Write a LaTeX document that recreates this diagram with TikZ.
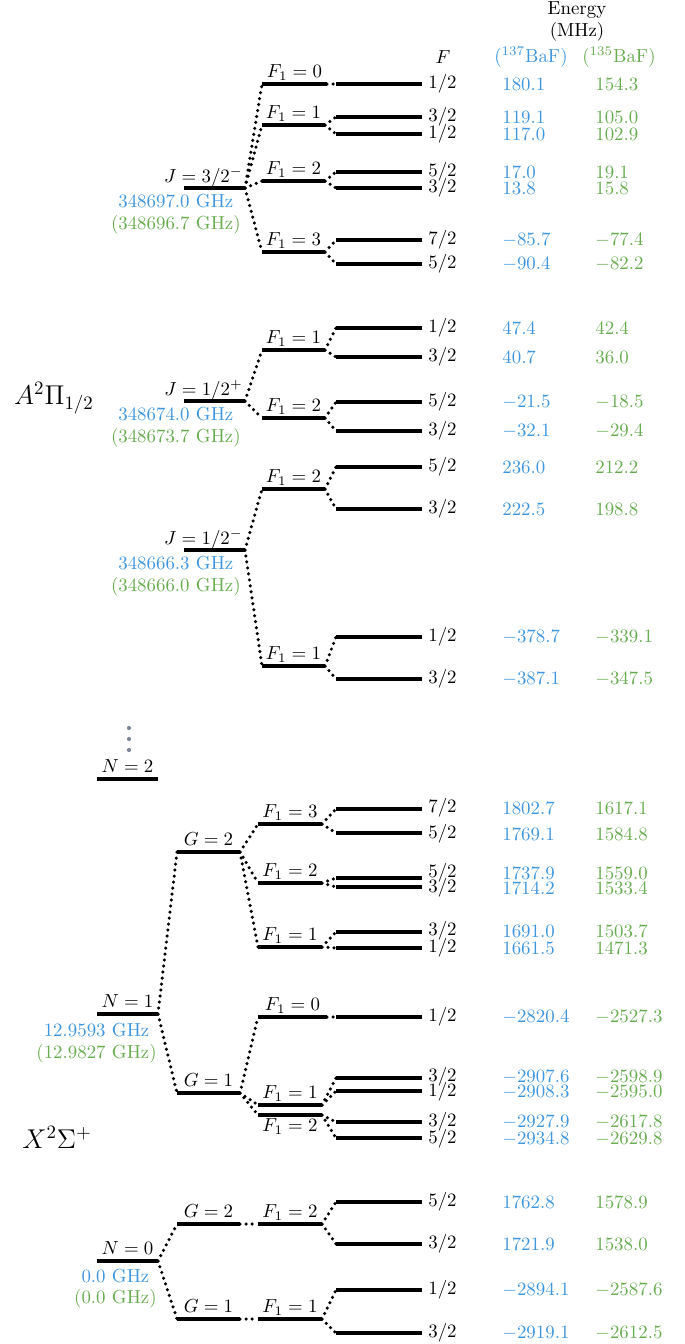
\documentclass[tikz,border=0pt]{standalone}
\usepackage{amsmath}
\definecolor{eblue}{RGB}{62,150,222}
\definecolor{egreen}{RGB}{104,172,80}
\definecolor{dotgray}{RGB}{125,135,155}
\newcommand\mylev[4]{%
  \coordinate (#1l) at (#2,#4);
  \coordinate (#1r) at (#3,#4);
  \draw[lvl] (#1l) -- (#1r);}
\newcommand\myrowt[6]{%
  \mylev{#1}{336}{422}{#2}
  \node[flab] (#1F) at (428,#3) {$#4$};
  \node[vblue] (#1B) at (502,#3) {$#5$};
  \node[vgreen] (#1G) at (595,#3) {$#6$};}
\newcommand\myrow[5]{\myrowt{#1}{#2}{#2}{#3}{#4}{#5}}
\newcommand\uplab[3]{%
  \path (#1l) -- (#1r) node[midway, uplabel] (#3) {$#2$};}
\newcommand\downlab[3]{%
  \path (#1l) -- (#1r) node[midway, downlabel] (#3) {$#2$};}
\begin{document}
\begin{tikzpicture}[x=0.53pt,y=-0.53pt,
  lvl/.style={line width=1.85pt},
  conn/.style={line width=1.85pt, line cap=round, dash pattern=on 0pt off 3.2pt},
  flab/.style={anchor=west, inner sep=0pt},
  vblue/.style={anchor=west, inner sep=0pt, text=eblue},
  vgreen/.style={anchor=west, inner sep=0pt, text=egreen},
  gblue/.style={anchor=east, inner sep=0pt, text=eblue},
  ggreen/.style={anchor=east, inner sep=0pt, text=egreen},
  uplabel/.style={anchor=base, yshift=3.3pt, inner sep=0pt},
  downlabel/.style={anchor=north, yshift=-1.6pt, inner sep=0pt},
  jlabel/.style={anchor=base east, inner sep=0pt},
  state/.style={inner sep=0pt, font=\Large},
  head/.style={inner sep=0pt}]
\useasboundingbox (0,0) rectangle (685,1344);

% header
\node[head] (hE) at (577,10) {Energy};
\node[head] (hM) at (577,32) {(MHz)};
\node[head] (hF) at (443,57) {$F$};
\node[head, text=eblue] (h137) at (531,57) {(\textsuperscript{137}BaF)};
\node[head, text=egreen] (h135) at (619,57) {(\textsuperscript{135}BaF)};

% ---------------- A state
\node[state] (Astate) at (54,398) {$A^2\Pi_{1/2}$};

% J = 3/2-
\mylev{ja}{184}{245}{188}
\node[jlabel] (jaT) at (243,182) {$J=3/2^-$};
\node[gblue] (jaB) at (241,203) {348697.0 GHz\phantom{)}};
\node[ggreen] (jaG) at (241,225) {(348696.7 GHz)};

\mylev{aa}{262}{327}{84}\uplab{aa}{F_1=0}{aaT}
\myrow{aa1}{84}{1/2}{180.1}{154.3}
\mylev{ab}{262}{325}{125}\uplab{ab}{F_1=1}{abT}
\myrow{ab1}{117}{3/2}{119.1}{105.0}
\myrow{ab2}{134}{1/2}{117.0}{102.9}
\mylev{ac}{262}{325}{181}\uplab{ac}{F_1=2}{acT}
\myrow{ac1}{172}{5/2}{17.0}{19.1}
\myrow{ac2}{188}{3/2}{13.8}{15.8}
\mylev{ad}{262}{325}{252}\uplab{ad}{F_1=3}{adT}
\myrow{ad1}{240}{7/2}{-85.7}{-77.4}
\myrow{ad2}{264}{5/2}{-90.4}{-82.2}

\draw[conn] (jar) -- (aal);
\draw[conn] (jar) -- (abl);
\draw[conn] (jar) -- (acl);
\draw[conn] (jar) -- (adl);
\draw[conn] (aar) -- (aa1l);
\draw[conn] (abr) -- (ab1l);
\draw[conn] (abr) -- (ab2l);
\draw[conn] (acr) -- (ac1l);
\draw[conn] (acr) -- (ac2l);
\draw[conn] (adr) -- (ad1l);
\draw[conn] (adr) -- (ad2l);

% J = 1/2+
\mylev{jb}{184}{245}{401}
\node[jlabel] (jbT) at (243,395) {$J=1/2^+$};
\node[gblue] (jbB) at (241,416) {348674.0 GHz\phantom{)}};
\node[ggreen] (jbG) at (241,438) {(348673.7 GHz)};

\mylev{ba}{262}{325}{350}\uplab{ba}{F_1=1}{baT}
\myrow{ba1}{328}{1/2}{47.4}{42.4}
\myrow{ba2}{357}{3/2}{40.7}{36.0}
\mylev{bb}{262}{325}{418}\uplab{bb}{F_1=2}{bbT}
\myrow{bb1}{402}{5/2}{-21.5}{-18.5}
\myrow{bb2}{431}{3/2}{-32.1}{-29.4}

\draw[conn] (jbr) -- (bal);
\draw[conn] (jbr) -- (bbl);
\draw[conn] (bar) -- (ba1l);
\draw[conn] (bar) -- (ba2l);
\draw[conn] (bbr) -- (bb1l);
\draw[conn] (bbr) -- (bb2l);

% J = 1/2-
\mylev{jc}{184}{245}{550}
\node[jlabel] (jcT) at (243,544) {$J=1/2^-$};
\node[gblue] (jcB) at (241,565) {348666.3 GHz\phantom{)}};
\node[ggreen] (jcG) at (241,587) {(348666.0 GHz)};

\mylev{ca}{262}{325}{489}\uplab{ca}{F_1=2}{caT}
\myrow{ca1}{467}{5/2}{236.0}{212.2}
\myrow{ca2}{509}{3/2}{222.5}{198.8}
\mylev{cb}{262}{325}{666}\uplab{cb}{F_1=1}{cbT}
\myrow{cb1}{637}{1/2}{-378.7}{-339.1}
\myrow{cb2}{679}{3/2}{-387.1}{-347.5}

\draw[conn] (jcr) -- (cal);
\draw[conn] (jcr) -- (cbl);
\draw[conn] (car) -- (ca1l);
\draw[conn] (car) -- (ca2l);
\draw[conn] (cbr) -- (cb1l);
\draw[conn] (cbr) -- (cb2l);

% ---------------- X state
\node[state] (Xstate) at (57,1137) {$X^2\Sigma^+$};

\fill[dotgray] (129,728) circle (1.1pt);
\fill[dotgray] (129,739) circle (1.1pt);
\fill[dotgray] (129,750) circle (1.1pt);
\mylev{n2}{97}{158}{779}\uplab{n2}{N=2}{n2T}

% N = 1
\mylev{n1}{97}{158}{1014}\uplab{n1}{N=1}{n1T}
\node[gblue] (n1B) at (157,1032) {12.9593 GHz\phantom{)}};
\node[ggreen] (n1G) at (157,1054) {(12.9827 GHz)};

\mylev{ga}{177}{240}{852}\uplab{ga}{G=2}{gaT}
\mylev{gb}{177}{240}{1093}\uplab{gb}{G=1}{gbT}

\mylev{xa}{258}{322}{824}\uplab{xa}{F_1=3}{xaT}
\myrowt{xa1}{809}{808}{7/2}{1802.7}{1617.1}
\myrowt{xa2}{833}{834}{5/2}{1769.1}{1584.8}
\mylev{xb}{258}{322}{883}\uplab{xb}{F_1=2}{xbT}
\myrowt{xb1}{878}{873}{5/2}{1737.9}{1559.0}
\myrowt{xb2}{887}{888}{3/2}{1714.2}{1533.4}
\mylev{xc}{258}{322}{947}\uplab{xc}{F_1=1}{xcT}
\myrowt{xc1}{932}{931}{3/2}{1691.0}{1503.7}
\myrowt{xc2}{948}{948}{1/2}{1661.5}{1471.3}

\mylev{xd}{258}{327}{1017}\uplab{xd}{F_1=0}{xdT}
\myrow{xd1}{1017}{1/2}{-2820.4}{-2527.3}
\mylev{xe}{258}{322}{1105}\uplab{xe}{F_1=1}{xeT}
\myrowt{xe1}{1078}{1077}{3/2}{-2907.6}{-2598.9}
\myrowt{xe2}{1091}{1092}{1/2}{-2908.3}{-2595.0}
\mylev{xf}{258}{322}{1115}\downlab{xf}{F_1=2}{xfT}
\myrowt{xf1}{1122}{1122}{3/2}{-2927.9}{-2617.8}
\myrowt{xf2}{1138}{1139}{5/2}{-2934.8}{-2629.8}

\draw[conn] (n1r) -- (gal);
\draw[conn] (n1r) -- (gbl);
\draw[conn] (gar) -- (xal);
\draw[conn] (gar) -- (xbl);
\draw[conn] (gar) -- (xcl);
\draw[conn] (gbr) -- (xdl);
\draw[conn] (gbr) -- (xel);
\draw[conn] (gbr) -- (xfl);
\draw[conn] (xar) -- (xa1l);
\draw[conn] (xar) -- (xa2l);
\draw[conn] (xbr) -- (xb1l);
\draw[conn] (xbr) -- (xb2l);
\draw[conn] (xcr) -- (xc1l);
\draw[conn] (xcr) -- (xc2l);
\draw[conn] (xdr) -- (xd1l);
\draw[conn] (xer) -- (xe1l);
\draw[conn] (xer) -- (xe2l);
\draw[conn] (xfr) -- (xf1l);
\draw[conn] (xfr) -- (xf2l);

% N = 0
\mylev{n0}{97}{158}{1261}\uplab{n0}{N=0}{n0T}
\node[gblue] (n0B) at (157,1278) {0.0 GHz\phantom{)}};
\node[ggreen] (n0G) at (157,1299) {(0.0 GHz)};

\mylev{gc}{177}{240}{1224}\uplab{gc}{G=2}{gcT}
\mylev{gd}{177}{240}{1319}\uplab{gd}{G=1}{gdT}
\mylev{xg}{258}{322}{1224}\uplab{xg}{F_1=2}{xgT}
\myrow{xg1}{1202}{5/2}{1762.8}{1578.9}
\myrow{xg2}{1244}{3/2}{1721.9}{1538.0}
\mylev{xh}{258}{322}{1319}\uplab{xh}{F_1=1}{xhT}
\myrow{xh1}{1290}{1/2}{-2894.1}{-2587.6}
\myrow{xh2}{1333}{3/2}{-2919.1}{-2612.5}

\draw[conn] (n0r) -- (gcl);
\draw[conn] (n0r) -- (gdl);
\draw[conn] (gcr) -- (xgl);
\draw[conn] (gdr) -- (xhl);
\draw[conn] (xgr) -- (xg1l);
\draw[conn] (xgr) -- (xg2l);
\draw[conn] (xhr) -- (xh1l);
\draw[conn] (xhr) -- (xh2l);
\end{tikzpicture}
\end{document}
